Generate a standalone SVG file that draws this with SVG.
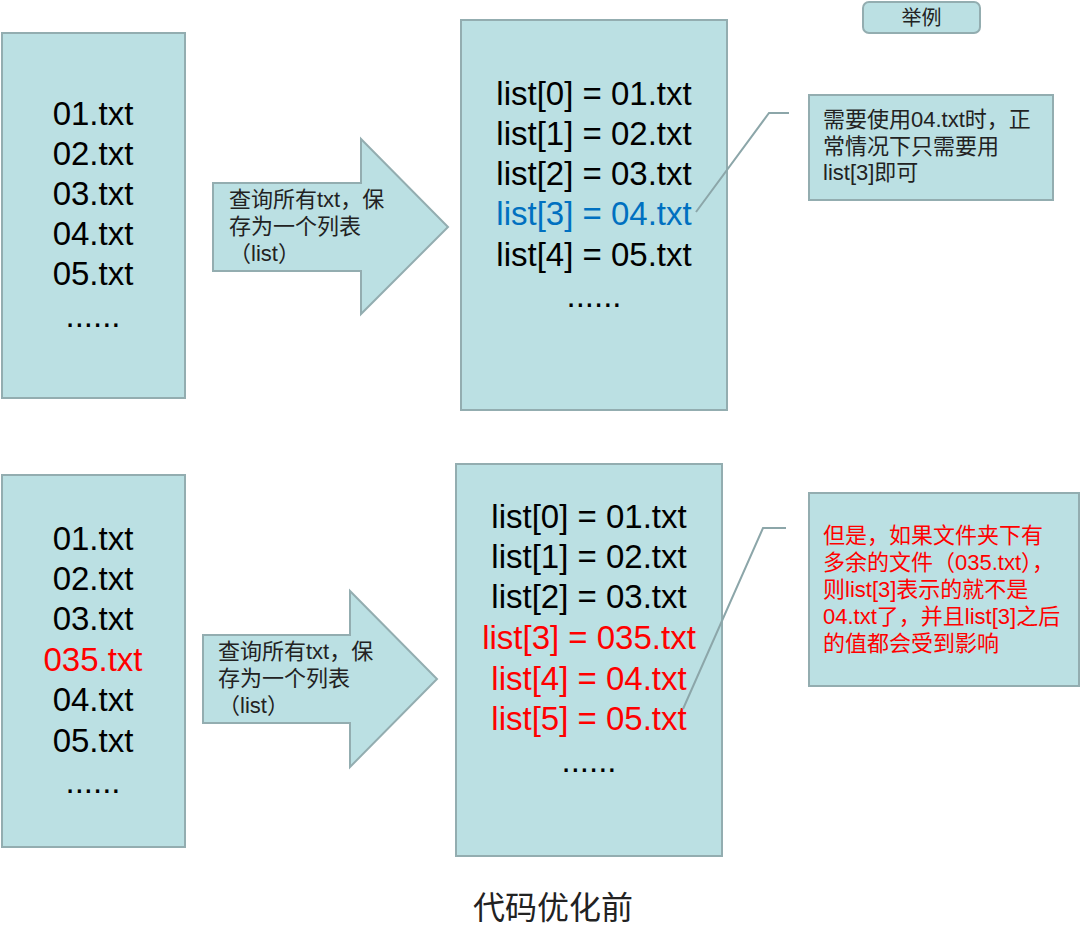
<svg xmlns="http://www.w3.org/2000/svg" width="1080" height="936" viewBox="0 0 1080 936">
<style>
.box{fill:#bbe0e3;stroke:#93adb0;stroke-width:2}
.big{font-family:"Liberation Sans","Noto Sans CJK SC",sans-serif;font-size:33px;fill:#000;text-anchor:middle}
.sm{font-family:"Liberation Sans","Noto Sans CJK SC",sans-serif;font-size:22px;fill:#222}
.red{fill:#ff0000}
.blue{fill:#0070c0}
.conn{fill:none;stroke:#8ca6a9;stroke-width:2}
</style>
<rect width="1080" height="936" fill="#fff"/>
<g id="top-files">
<rect class="box" x="2" y="33" width="183" height="365"/>
<text class="big" x="93" y="125">01.txt</text>
<text class="big" x="93" y="165">02.txt</text>
<text class="big" x="93" y="205">03.txt</text>
<text class="big" x="93" y="245">04.txt</text>
<text class="big" x="93" y="285">05.txt</text>
<text class="big" x="93" y="327">......</text>
</g>
<g id="top-arrow">
<polygon class="box" points="213,183 361,183 361,139 448,227 361,314 361,271 213,271"/>
<text class="sm" x="229" y="207">查询所有txt，保</text>
<text class="sm" x="229" y="234">存为一个列表</text>
<text class="sm" x="229" y="261">（list）</text>
</g>
<g id="top-list">
<rect class="box" x="461" y="20" width="266" height="390"/>
<text class="big" x="594" y="105">list[0] = 01.txt</text>
<text class="big" x="594" y="145">list[1] = 02.txt</text>
<text class="big" x="594" y="185">list[2] = 03.txt</text>
<text class="big blue" x="594" y="225">list[3] = 04.txt</text>
<text class="big" x="594" y="266">list[4] = 05.txt</text>
<text class="big" x="594" y="307">......</text>
</g>
<g id="example-label">
<rect class="box" x="863" y="2" width="117" height="31" rx="6"/>
<text class="sm" x="921.5" y="25" text-anchor="middle" style="font-size:20px">举例</text>
</g>
<g id="top-note">
<rect class="box" x="809" y="95" width="244" height="105"/>
<text class="sm" x="823" y="127">需要使用04.txt时，正</text>
<text class="sm" x="823" y="154">常情况下只需要用</text>
<text class="sm" x="823" y="180">list[3]即可</text>
</g>
<g id="bottom-files">
<rect class="box" x="2" y="475" width="183" height="372"/>
<text class="big" x="93" y="550">01.txt</text>
<text class="big" x="93" y="590">02.txt</text>
<text class="big" x="93" y="630">03.txt</text>
<text class="big red" x="93" y="671">035.txt</text>
<text class="big" x="93" y="711">04.txt</text>
<text class="big" x="93" y="752">05.txt</text>
<text class="big" x="93" y="793">......</text>
</g>
<g id="bottom-arrow">
<polygon class="box" points="203,635 350,635 350,591 437,679 350,767 350,723 203,723"/>
<text class="sm" x="218" y="659">查询所有txt，保</text>
<text class="sm" x="218" y="686">存为一个列表</text>
<text class="sm" x="218" y="713">（list）</text>
</g>
<g id="bottom-list">
<rect class="box" x="456" y="464" width="266" height="392"/>
<text class="big" x="589" y="528">list[0] = 01.txt</text>
<text class="big" x="589" y="568">list[1] = 02.txt</text>
<text class="big" x="589" y="608">list[2] = 03.txt</text>
<text class="big red" x="589" y="649">list[3] = 035.txt</text>
<text class="big red" x="589" y="690">list[4] = 04.txt</text>
<text class="big red" x="589" y="730">list[5] = 05.txt</text>
<text class="big" x="589" y="772">......</text>
</g>
<g id="bottom-note">
<rect class="box" x="809" y="493" width="270" height="193"/>
<text class="sm red" x="823" y="543">但是，如果文件夹下有</text>
<text class="sm red" x="823" y="570">多余的文件（035.txt），</text>
<text class="sm red" x="823" y="597">则list[3]表示的就不是</text>
<text class="sm red" x="823" y="624">04.txt了，并且list[3]之后</text>
<text class="sm red" x="823" y="651">的值都会受到影响</text>
</g>
<g id="connectors">
<polyline class="conn" points="789,113 769,113 696,212"/>
<polyline class="conn" points="786,528 763,528 683,709"/>
</g>
<g id="title">
<text x="553" y="919" text-anchor="middle" style="font-family:'Noto Sans CJK SC',sans-serif;font-size:32px;fill:#222">代码优化前</text>
</g>
</svg>
